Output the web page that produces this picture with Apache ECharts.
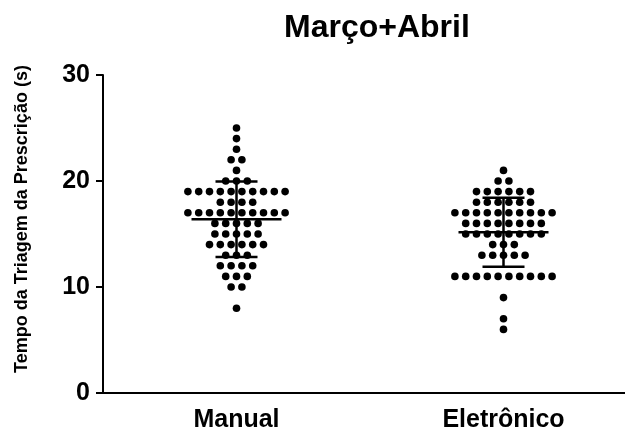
<!DOCTYPE html>
<html>
<head>
<meta charset="utf-8">
<script src="https://cdn.jsdelivr.net/npm/echarts@6/dist/echarts.min.js"></script>
<style>
html,body{margin:0;padding:0;background:#fff;}
#chart{width:625px;height:429px;}
</style>
</head>
<body>
<div id="chart"></div>
<script>
const categories = ['Manual', 'Eletrônico'];
const manualValues = [25, 24, 23, 22, 22, 21, 20, 20, 20,
  19, 19, 19, 19, 19, 19, 19, 19, 19, 19,
  18, 18, 18, 18,
  17, 17, 17, 17, 17, 17, 17, 17, 17, 17,
  16, 16, 16, 16, 16,
  15, 15, 15, 15, 15,
  14, 14, 14, 14, 14, 14,
  13, 13, 13,
  12, 12, 12, 12,
  11, 11, 11,
  10, 10,
  8];
const eletronicoValues = [21, 20, 20,
  19, 19, 19, 19, 19, 19,
  18, 18, 18, 18, 18, 18,
  17, 17, 17, 17, 17, 17, 17, 17, 17, 17,
  16, 16, 16, 16, 16, 16, 16, 16,
  15, 15, 15, 15, 15, 15, 15, 15,
  14, 14, 14,
  13, 13, 13, 13, 13,
  11, 11, 11, 11, 11, 11, 11, 11, 11, 11,
  9, 7, 6];
const yTicks = [0, 10, 20, 30];
const titleText = 'Março+Abril';
const yAxisTitle = 'Tempo da Triagem da Prescrição (s)';

const groups = [manualValues, eletronicoValues];

// dot-plot layout: dots sharing a value are spread symmetrically around the category centre
function dotItems(values, catIdx) {
  const counts = {};
  values.forEach(v => { counts[v] = (counts[v] || 0) + 1; });
  const seen = {};
  return values.map(v => {
    const k = seen[v] || 0;
    seen[v] = k + 1;
    return [catIdx, v, k - (counts[v] - 1) / 2];
  });
}
function stats(values) {
  const n = values.length;
  const mean = values.reduce((a, b) => a + b, 0) / n;
  const sd = Math.sqrt(values.reduce((a, b) => a + (b - mean) * (b - mean), 0) / (n - 1));
  return [mean, sd];
}
const dotData = [].concat(...groups.map((g, i) => dotItems(g, i)));
const barData = groups.map((g, i) => [i].concat(stats(g)));

const FONT = '"Liberation Sans", Arial, sans-serif';
const DOT_SPACING = 10.8;
const chart = echarts.init(document.getElementById('chart'), null, {renderer: 'canvas'});
chart.setOption({
  animation: false,
  backgroundColor: '#ffffff',
  title: {
    text: titleText,
    left: 279, top: 7,
    textStyle: {fontFamily: FONT, fontWeight: 'bold', fontSize: 32, color: '#000'}
  },
  graphic: [{
    type: 'text',
    x: 22, y: 219,
    rotation: Math.PI / 2,
    style: {
      text: yAxisTitle,
      fontFamily: FONT, fontWeight: 'bold', fontSize: 18,
      fill: '#000', align: 'center', verticalAlign: 'middle'
    }
  }],
  grid: {left: 103, top: 75, height: 318, width: 534, containLabel: false, outerBoundsMode: 'none'},
  xAxis: {
    type: 'category',
    data: categories,
    boundaryGap: true,
    axisLine: {lineStyle: {color: '#000', width: 2}},
    axisTick: {alignWithLabel: true, length: 7, lineStyle: {color: '#000', width: 2}},
    axisLabel: {margin: 15, fontFamily: FONT, fontWeight: 'bold', fontSize: 25, color: '#000'},
    splitLine: {show: false}
  },
  yAxis: {
    type: 'value',
    min: yTicks[0], max: yTicks[yTicks.length - 1], interval: 10,
    axisLine: {show: true, lineStyle: {color: '#000', width: 2}},
    axisTick: {show: true, length: 7, lineStyle: {color: '#000', width: 2}},
    axisLabel: {margin: 13, fontFamily: FONT, fontWeight: 'bold', fontSize: 25, color: '#000'},
    splitLine: {show: false}
  },
  series: [{
    type: 'custom',
    data: dotData,
    z: 2,
    renderItem: function (params, api) {
      const p = api.coord([api.value(0), api.value(1)]);
      return {
        type: 'circle',
        shape: {cx: p[0] + api.value(2) * DOT_SPACING, cy: p[1], r: 3.8},
        style: {fill: '#000'}
      };
    }
  }, {
    type: 'custom',
    data: barData,
    z: 3,
    renderItem: function (params, api) {
      const c = api.value(0), m = api.value(1), s = api.value(2);
      const pm = api.coord([c, m]);
      const pu = api.coord([c, m + s]);
      const pl = api.coord([c, m - s]);
      const st = {stroke: '#000', lineWidth: 2.5};
      return {
        type: 'group',
        children: [
          {type: 'line', shape: {x1: pm[0] - 45, y1: pm[1], x2: pm[0] + 45, y2: pm[1]}, style: st},
          {type: 'line', shape: {x1: pu[0], y1: pu[1], x2: pl[0], y2: pl[1]}, style: st},
          {type: 'line', shape: {x1: pu[0] - 21, y1: pu[1], x2: pu[0] + 21, y2: pu[1]}, style: st},
          {type: 'line', shape: {x1: pl[0] - 21, y1: pl[1], x2: pl[0] + 21, y2: pl[1]}, style: st}
        ]
      };
    }
  }]
});
</script>
</body>
</html>
